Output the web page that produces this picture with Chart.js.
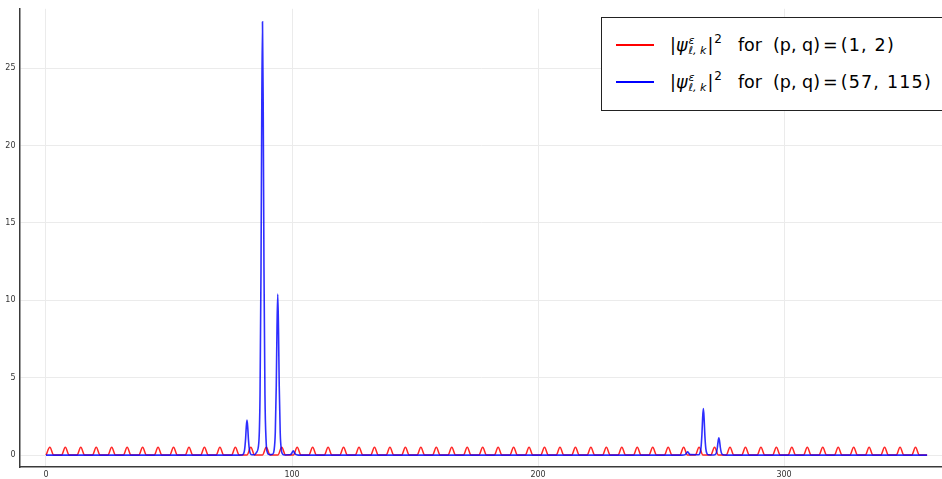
<!DOCTYPE html>
<html>
<head>
<meta charset="utf-8">
<script src="https://cdn.jsdelivr.net/npm/chart.js@4"></script>
<style>
  html, body { margin: 0; padding: 0; background: #fff; }
  #wrap { position: relative; width: 942px; height: 479px; overflow: hidden; }
  #c { position: absolute; left: 0; top: 0; }
  #legend {
    position: absolute; left: 601px; top: 17px; width: 360px; height: 94px;
    border: 1px solid #222; background: #fff; box-sizing: border-box;
    font-family: "DejaVu Sans", sans-serif; font-size: 17.5px; color: #000;
  }
  .row { position: absolute; left: 0; height: 30px; display: flex; align-items: center; white-space: nowrap; }
  .sw { display: inline-block; width: 38px; height: 2.5px; margin-left: 14px; margin-right: 16px; }
  .m { font-style: italic; }
  .ss { display: inline-flex; flex-direction: column; font-size: 11px; line-height: 10px; vertical-align: middle; margin-left: 1px; margin-right: 1px; position: relative; top: 0px; }
  .sp2 { font-size: 12px; position: relative; top: -8px; margin-left: 1px; }
  .gap1 { display: inline-block; width: 16px; }
  .gap2 { display: inline-block; width: 11px; }
  .gap3 { display: inline-block; width: 3px; }
  .num { letter-spacing: 1.2px; }
</style>
</head>
<body>
<div id="wrap">
  <canvas id="c" width="942" height="479"></canvas>
  <div id="legend">
    <div class="row" style="top:12px"><span class="sw" style="background:#ff0000"></span><span>|<span class="m">ψ</span><span class="ss"><span class="m">ε</span><span class="m">ℓ, k</span></span>|<span class="sp2">2</span><span class="gap1"></span>for<span class="gap2"></span>(p, q)<span class="gap3"></span>=<span class="gap3"></span><span class="num">(1, 2)</span></span></div>
    <div class="row" style="top:49px"><span class="sw" style="background:#0000ff"></span><span>|<span class="m">ψ</span><span class="ss"><span class="m">ε</span><span class="m">ℓ, k</span></span>|<span class="sp2">2</span><span class="gap1"></span>for<span class="gap2"></span>(p, q)<span class="gap3"></span>=<span class="gap3"></span><span class="num">(57, 115)</span></span></div>
  </div>
</div>
<script>
// Series 1: (p,q) = (1,2)
const redX = [
  0, 1.57, 3.14, 6.28, 7.85, 9.42, 12.57, 14.14, 15.71, 18.85, 20.42, 21.99,
  25.13, 26.70, 28.27, 31.42, 32.99, 34.56, 37.70, 39.27, 40.84, 43.98, 45.55, 47.12,
  50.27, 51.84, 53.41, 56.55, 58.12, 59.69, 62.83, 64.40, 65.97, 69.12, 70.69, 72.26,
  75.40, 76.97, 78.54, 81.68, 83.25, 84.82, 87.96, 89.54, 91.11, 94.25, 95.82, 97.39,
  100.53, 102.10, 103.67, 106.81, 108.38, 109.96, 113.10, 114.67, 116.24, 119.38, 120.95, 122.52,
  125.66, 127.23, 128.81, 131.95, 133.52, 135.09, 138.23, 139.80, 141.37, 144.51, 146.08, 147.65,
  150.80, 152.37, 153.94, 157.08, 158.65, 160.22, 163.36, 164.93, 166.50, 169.65, 171.22, 172.79,
  175.93, 177.50, 179.07, 182.21, 183.78, 185.35, 188.50, 190.07, 191.64, 194.78, 196.35, 197.92,
  201.06, 202.63, 204.20, 207.35, 208.92, 210.49, 213.63, 215.20, 216.77, 219.91, 221.48, 223.05,
  226.19, 227.77, 229.34, 232.48, 234.05, 235.62, 238.76, 240.33, 241.90, 245.04, 246.62, 248.19,
  251.33, 252.90, 254.47, 257.61, 259.18, 260.75, 263.89, 265.46, 267.04, 270.18, 271.75, 273.32,
  276.46, 278.03, 279.60, 282.74, 284.31, 285.88, 289.03, 290.60, 292.17, 295.31, 296.88, 298.45,
  301.59, 303.16, 304.73, 307.88, 309.45, 311.02, 314.16, 315.73, 317.30, 320.44, 322.01, 323.58,
  326.73, 328.30, 329.87, 333.01, 334.58, 336.15, 339.29, 340.86, 342.43, 345.58, 347.15, 348.72,
  351.86, 353.43, 355.00, 358.14
];
const redY = [
  0, 0.5, 0, 0, 0.5, 0, 0, 0.5, 0, 0, 0.5, 0,
  0, 0.5, 0, 0, 0.5, 0, 0, 0.5, 0, 0, 0.5, 0,
  0, 0.5, 0, 0, 0.5, 0, 0, 0.5, 0, 0, 0.5, 0,
  0, 0.5, 0, 0, 0.5, 0, 0, 0.5, 0, 0, 0.5, 0,
  0, 0.5, 0, 0, 0.5, 0, 0, 0.5, 0, 0, 0.5, 0,
  0, 0.5, 0, 0, 0.5, 0, 0, 0.5, 0, 0, 0.5, 0,
  0, 0.5, 0, 0, 0.5, 0, 0, 0.5, 0, 0, 0.5, 0,
  0, 0.5, 0, 0, 0.5, 0, 0, 0.5, 0, 0, 0.5, 0,
  0, 0.5, 0, 0, 0.5, 0, 0, 0.5, 0, 0, 0.5, 0,
  0, 0.5, 0, 0, 0.5, 0, 0, 0.5, 0, 0, 0.5, 0,
  0, 0.5, 0, 0, 0.5, 0, 0, 0.5, 0, 0, 0.5, 0,
  0, 0.5, 0, 0, 0.5, 0, 0, 0.5, 0, 0, 0.5, 0,
  0, 0.5, 0, 0, 0.5, 0, 0, 0.5, 0, 0, 0.5, 0,
  0, 0.5, 0, 0, 0.5, 0, 0, 0.5, 0, 0, 0.5, 0,
  0, 0.5, 0, 0
];

// Series 2: (p,q) = (57,115)
const blueX = [
  0, 78.0,
  79.7, 80.2, 80.7, 81.1, 81.4, 81.7, 82.0, 82.3, 82.7, 83.2, 83.7,
  84.8,
  85.5, 86.5, 87.0, 87.4, 87.7, 88.0, 88.3, 88.6, 89.0, 89.5, 90.0, 90.5,
  91.1,
  92.2, 92.7, 93.2, 93.6, 93.9, 94.2, 94.5, 94.8, 95.2, 95.7, 96.2, 97.0,
  99.0, 99.5, 100.0, 100.5, 101.0, 101.5, 102.5,
  258.5, 259.8, 260.3, 260.8, 261.3, 261.8,
  265.2, 265.7, 266.2, 266.6, 266.9, 267.2, 267.5, 267.8, 268.2, 268.7, 269.2,
  270.4, 271.5, 272.0, 272.5, 272.9, 273.2, 273.5, 273.8, 274.1, 274.5, 275.0, 275.5, 277.0,
  358.14
];
const blueY = [
  0, 0,
  0.01, 0.06, 0.32, 0.98, 1.79, 2.26, 1.79, 0.98, 0.32, 0.06, 0.02,
  0.02,
  0.16, 0.8, 3.9, 12.1, 22.2, 28.0, 22.2, 12.1, 3.9, 0.8, 0.16, 0.05,
  0.03,
  0.06, 0.3, 1.46, 4.5, 8.2, 10.4, 8.2, 4.5, 1.46, 0.3, 0.06, 0.01,
  0.02, 0.04, 0.15, 0.28, 0.15, 0.04, 0,
  0, 0.03, 0.12, 0.22, 0.12, 0.03,
  0.02, 0.09, 0.42, 1.3, 2.38, 3.0, 2.38, 1.3, 0.42, 0.09, 0.02,
  0.01, 0.01, 0.03, 0.16, 0.49, 0.89, 1.12, 0.89, 0.49, 0.16, 0.03, 0.01, 0,
  0
];

const xTicks = [0, 100, 200, 300];
const yTicks = [0, 5, 10, 15, 20, 25];
const seriesNames = ["(1, 2)", "(57, 115)"];

const toPts = (xs, ys) => xs.map((x, i) => ({ x: x, y: ys[i] }));

new Chart(document.getElementById('c'), {
  type: 'line',
  data: {
    datasets: [
      {
        label: seriesNames[1],
        data: toPts(blueX, blueY),
        borderColor: 'rgba(0,0,255,0.82)',
        borderWidth: 1.6,
        pointRadius: 0,
        cubicInterpolationMode: 'monotone',
        fill: false,
        order: 0
      },
      {
        label: seriesNames[0],
        data: toPts(redX, redY),
        borderColor: 'rgba(255,0,0,0.85)',
        borderWidth: 1.5,
        pointRadius: 0,
        cubicInterpolationMode: 'monotone',
        fill: false,
        order: 1
      }
    ]
  },
  options: {
    responsive: false,
    animation: false,
    events: [],
    layout: { padding: { top: 8, right: 0, left: 0, bottom: 0 } },
    plugins: { legend: { display: false }, tooltip: { enabled: false } },
    scales: {
      x: {
        type: 'linear',
        min: -10.77,
        max: 364.2,
        afterBuildTicks: s => { s.ticks = xTicks.map(v => ({ value: v })); },
        afterFit: s => { s.height = 12; },
        grid: { color: '#ebebeb', lineWidth: 1, drawTicks: false },
        border: { display: true, color: '#3a3a3a', width: 1.5 },
        ticks: { font: { family: 'DejaVu Sans', size: 8 }, color: '#333', padding: 3, maxRotation: 0 }
      },
      y: {
        type: 'linear',
        min: -0.77,
        max: 28.84,
        afterBuildTicks: s => { s.ticks = yTicks.map(v => ({ value: v })); },
        afterFit: s => { s.width = 19.5; },
        grid: { color: '#ebebeb', lineWidth: 1, drawTicks: false },
        border: { display: true, color: '#3a3a3a', width: 1.5 },
        ticks: { font: { family: 'DejaVu Sans', size: 8 }, color: '#333', padding: 4 }
      }
    }
  }
});
</script>
</body>
</html>
